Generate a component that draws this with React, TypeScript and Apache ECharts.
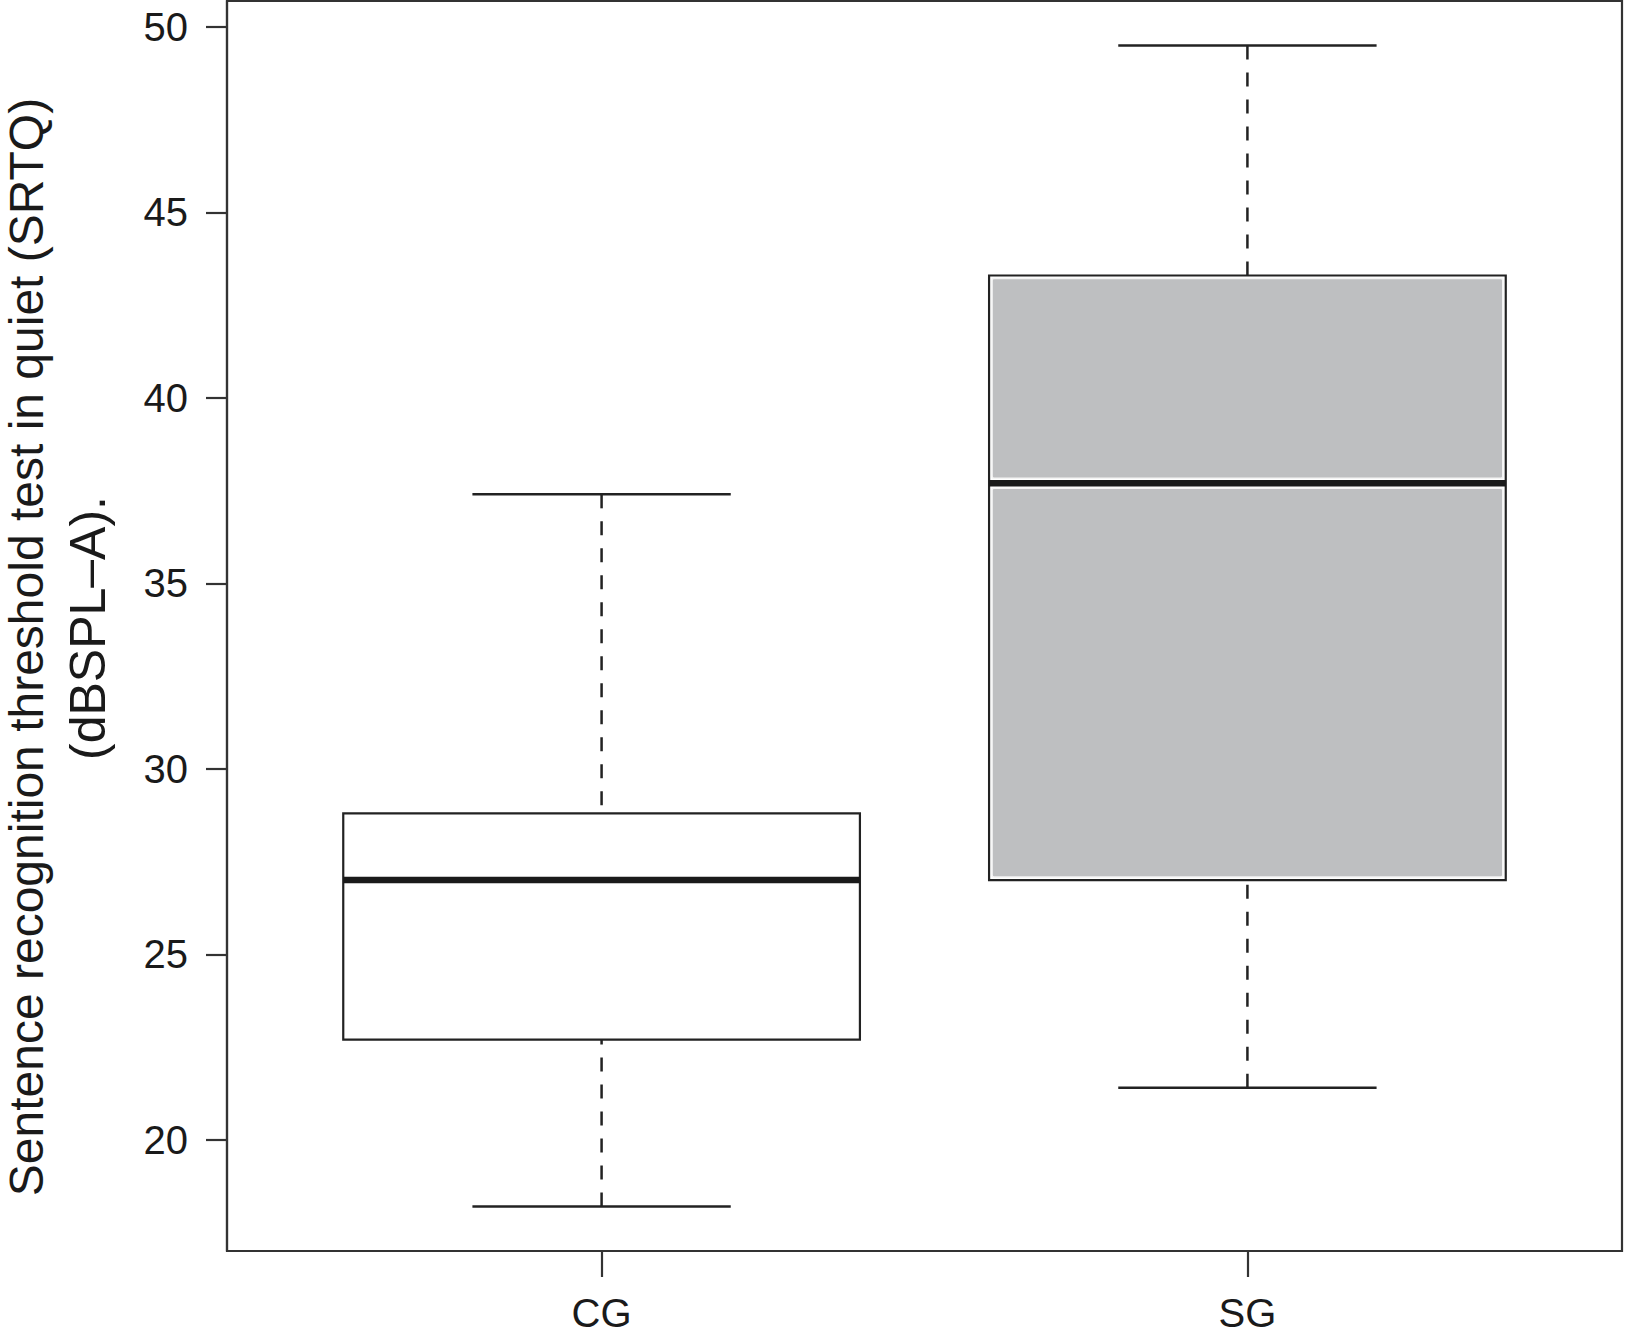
import React, { useEffect, useRef } from "react";
import * as echarts from "echarts";

const categories = ["CG", "SG"];
const lowerWhisker = [18.2, 21.4];
const q1 = [22.7, 27.0];
const median = [27.0, 37.7];
const q3 = [28.8, 43.3];
const upperWhisker = [37.4, 49.5];
const boxFills = ["#ffffff", "#bebfc1"];
const yTicks = [20, 25, 30, 35, 40, 45, 50];
const xTicks = [1, 2];
const yMin = 17.0;
const yMax = 50.7;
const xMin = 0.42;
const xMax = 2.58;
const titleLine1 = "Sentence recognition threshold test in quiet (SRTQ)";
const titleLine2 = "(dBSPL\u2013A).";

const FONT = '"Liberation Sans", Arial, Helvetica, sans-serif';
const INK = "#222222";

export default function App() {
  const ref = useRef<HTMLDivElement>(null);
  useEffect(() => {
    if (!ref.current) return;
    const chart = echarts.init(ref.current, undefined, { renderer: "svg" });
    const boxHalf = 0.4;
    const stapleHalf = 0.2;
    const renderItem = (params: any, api: any) => {
      const i = params.dataIndex;
      const x = api.value(0);
      const lw = api.value(1);
      const a = api.value(2);
      const m = api.value(3);
      const b = api.value(4);
      const uw = api.value(5);
      const pL = api.coord([x - boxHalf, b]);
      const pR = api.coord([x + boxHalf, a]);
      const cx = api.coord([x, m])[0];
      const sL = api.coord([x - stapleHalf, uw])[0];
      const sR = api.coord([x + stapleHalf, uw])[0];
      const yUw = api.coord([x, uw])[1];
      const yLw = api.coord([x, lw])[1];
      const yQ3 = pL[1];
      const yQ1 = pR[1];
      const yMed = api.coord([x, m])[1];
      const left = pL[0];
      const right = pR[0];
      const fill = boxFills[i];
      const children: any[] = [];
      const whiskerStyle = { stroke: INK, lineWidth: 2.5, lineDash: [14, 13] };
      children.push({ type: "line", shape: { x1: cx, y1: yUw, x2: cx, y2: yQ3 }, style: whiskerStyle });
      children.push({ type: "line", shape: { x1: cx, y1: yLw, x2: cx, y2: yQ1 }, style: whiskerStyle });
      children.push({ type: "line", shape: { x1: sL, y1: yUw, x2: sR, y2: yUw }, style: { stroke: INK, lineWidth: 2.5 } });
      children.push({ type: "line", shape: { x1: sL, y1: yLw, x2: sR, y2: yLw }, style: { stroke: INK, lineWidth: 2.5 } });
      children.push({
        type: "rect",
        shape: { x: left, y: yQ3, width: right - left, height: yQ1 - yQ3 },
        style: { fill: "#ffffff", stroke: INK, lineWidth: 2.2 },
      });
      if (fill !== "#ffffff") {
        const inset = 3;
        children.push({
          type: "rect",
          shape: { x: left + inset, y: yQ3 + inset, width: right - left - 2 * inset, height: yMed - yQ3 - 2 * inset - 2, r: 2 },
          style: { fill, stroke: "#f4f4f4", lineWidth: 1.5 },
        });
        children.push({
          type: "rect",
          shape: { x: left + inset, y: yMed + inset + 2, width: right - left - 2 * inset, height: yQ1 - yMed - 2 * inset - 2, r: 2 },
          style: { fill, stroke: "#f4f4f4", lineWidth: 1.5 },
        });
      }
      children.push({ type: "line", shape: { x1: left, y1: yMed, x2: right, y2: yMed }, style: { stroke: "#1a1a1a", lineWidth: 6.5 } });
      return { type: "group", children };
    };

    chart.setOption({
      animation: false,
      backgroundColor: "#ffffff",
      grid: { left: 227, right: 3, top: 1, bottom: 86, show: true, borderColor: "#333333", borderWidth: 2.2, backgroundColor: "transparent" },
      xAxis: {
        type: "value",
        min: xMin,
        max: xMax,
        splitLine: { show: false },
        axisLine: { show: true, lineStyle: { color: "#333333", width: 2.2 } },
        axisTick: { show: true, length: 26, lineStyle: { color: "#333333", width: 2.2 }, customValues: xTicks },
        axisLabel: {
          customValues: xTicks,
          formatter: (v: number) => categories[Math.round(v) - 1] ?? "",
          fontSize: 40,
          fontFamily: FONT,
          color: "#1a1a1a",
          margin: 42,
        },
      },
      yAxis: {
        type: "value",
        min: yMin,
        max: yMax,
        splitLine: { show: false },
        axisLine: { show: true, lineStyle: { color: "#333333", width: 2.2 } },
        axisTick: { show: true, length: 21, lineStyle: { color: "#333333", width: 2.2 }, customValues: yTicks },
        axisLabel: {
          customValues: yTicks,
          fontSize: 40,
          fontFamily: FONT,
          color: "#1a1a1a",
          margin: 39,
        },
      },
      graphic: [
        {
          type: "text",
          x: 26,
          y: 647,
          rotation: Math.PI / 2,
          style: { text: titleLine1, fontSize: 48, fontFamily: FONT, fill: "#1a1a1a", align: "center", verticalAlign: "middle" },
        },
        {
          type: "text",
          x: 88,
          y: 628,
          rotation: Math.PI / 2,
          style: { text: titleLine2, fontSize: 50, fontFamily: FONT, fill: "#1a1a1a", align: "center", verticalAlign: "middle" },
        },
      ],
      series: [
        {
          type: "custom",
          renderItem,
          clip: false,
          encode: { x: 0, y: [1, 2, 3, 4, 5] },
          data: categories.map((c, i) => [i + 1, lowerWhisker[i], q1[i], median[i], q3[i], upperWhisker[i]]),
        },
      ],
    });
    return () => chart.dispose();
  }, []);
  return <div ref={ref} style={{ position: "fixed", left: 0, top: 0, width: 1625, height: 1337 }} />;
}
